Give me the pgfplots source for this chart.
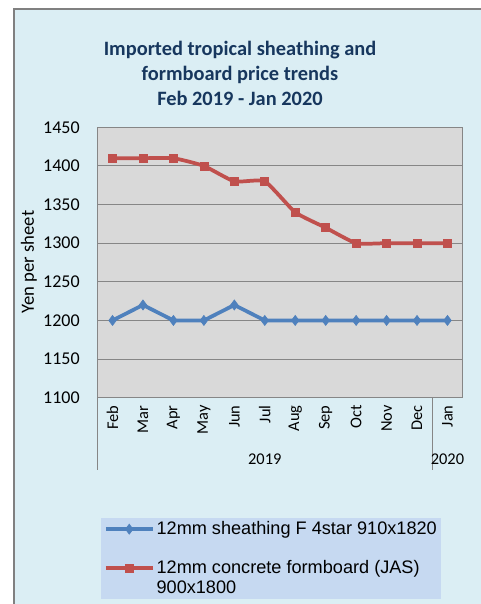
\documentclass[border=0pt]{standalone}
\usepackage{fontspec}
\setmainfont{Carlito}
\newfontfamily\arialf{Liberation Sans}
\usepackage{pgfplots}
\pgfplotsset{compat=1.18}
\definecolor{bgblue}{HTML}{DBEEF4}
\definecolor{legblue}{HTML}{C6D9F1}
\definecolor{plotgray}{HTML}{D9D9D9}
\definecolor{gridgray}{HTML}{868686}
\definecolor{titleblue}{HTML}{17375E}
\definecolor{serblue}{HTML}{4F81BD}
\definecolor{serred}{HTML}{C0504D}
\pgfplotsset{
  redlegimg/.style={legend image code/.code={\path[draw=none,fill=none] (0pt,-7.5pt) -- (0pt,7.5pt);\draw[mark repeat=2,mark phase=2,##1] plot coordinates {(0pt,7.5pt) (17.6pt,7.5pt) (35.2pt,7.5pt)};}},
}
\begin{document}
\begin{tikzpicture}
\useasboundingbox (0,0) rectangle (360.75pt,453pt);
\fill[white] (0,0) rectangle (360.75pt,453pt);
\fill[bgblue] (10.5pt,0) rectangle (360.75pt,446.25pt);
\draw[gray, line width=1.5pt] (10.5pt,0) -- (10.5pt,446.25pt) -- (360.75pt,446.25pt);
\node[align=center, font=\bfseries\fontsize{15.3}{18.75}\selectfont, text=titleblue] at (180pt,398.25pt) {Imported tropical sheathing and\\formboard price trends\\Feb 2019 - Jan 2020};
\node[rotate=90, font=\fontsize{14}{16}\selectfont] at (21.75pt,256.5pt) {Yen per sheet};
\begin{axis}[
  at={(72.98pt,154.73pt)}, anchor=south west,
  scale only axis, width=274.05pt, height=202.8pt,
  xmin=-0.5, xmax=11.5, ymin=1100, ymax=1450,
  ytick={1100,1150,...,1450},
  xtick={0,...,11},
  xticklabels={Feb,Mar,Apr,May,Jun,Jul,Aug,Sep,Oct,Nov,Dec,Jan},
  axis background/.style={fill=plotgray},
  axis line style={draw=gridgray, line width=0.75pt},
  ymajorgrids, grid style={gridgray, line width=0.75pt},
  major tick length=0pt,
  /pgf/number format/assume math mode=true,
  /pgf/number format/1000 sep={},
  yticklabel style={font=\fontsize{13.5}{16}\selectfont, inner sep=0pt},
  yticklabel shift=13pt,
  xticklabel style={rotate=90, anchor=east, font=\fontsize{12.3}{14}\selectfont, inner sep=0pt},
  xticklabel shift=5.6pt,
  clip=false,
  legend style={at={(0.0101,-0.445)}, anchor=north west, fill=legblue, draw=none,
    font=\arialf\fontsize{13.6}{15}\selectfont, nodes={align=left, inner sep=1.5pt}, row sep=15pt, inner xsep=2pt, inner ysep=1pt},
  legend cell align=left,
  legend image code/.code={\draw[mark repeat=2,mark phase=2,#1] plot coordinates {(0pt,0pt) (17.6pt,0pt) (35.2pt,0pt)};},
]
\addplot[serblue, line width=2.8pt, mark=diamond*, mark size=3.75pt, mark options={solid, line width=0.5pt}]
  coordinates {(0,1200) (1,1220) (2,1200) (3,1200) (4,1220) (5,1200) (6,1200) (7,1200) (8,1200) (9,1200) (10,1200) (11,1200)};
\addlegendentry{12mm sheathing F 4star 910x1820}
\addplot[serred, line width=2.8pt, smooth, tension=0.3, mark=square*, mark size=3pt, mark options={solid, line width=0.5pt}, redlegimg]
  coordinates {(0,1410) (1,1410) (2,1410) (3,1400) (4,1380) (5,1380) (6,1340) (7,1320) (8,1300) (9,1300) (10,1300) (11,1300)};
\addlegendentry{12mm concrete formboard (JAS)\\900x1800}
\draw[gridgray, line width=0.75pt] (axis cs:-0.5,1100) -- ++(0pt,-54.2pt);
\draw[gridgray, line width=0.75pt] (axis cs:10.5,1100) -- ++(0pt,-54.2pt);
\node[font=\fontsize{12.3}{14}\selectfont] at ([yshift=-46pt]axis cs:5,1100) {2019};
\node[font=\fontsize{12.3}{14}\selectfont] at ([yshift=-46pt]axis cs:11,1100) {2020};
\end{axis}
\end{tikzpicture}
\end{document}
